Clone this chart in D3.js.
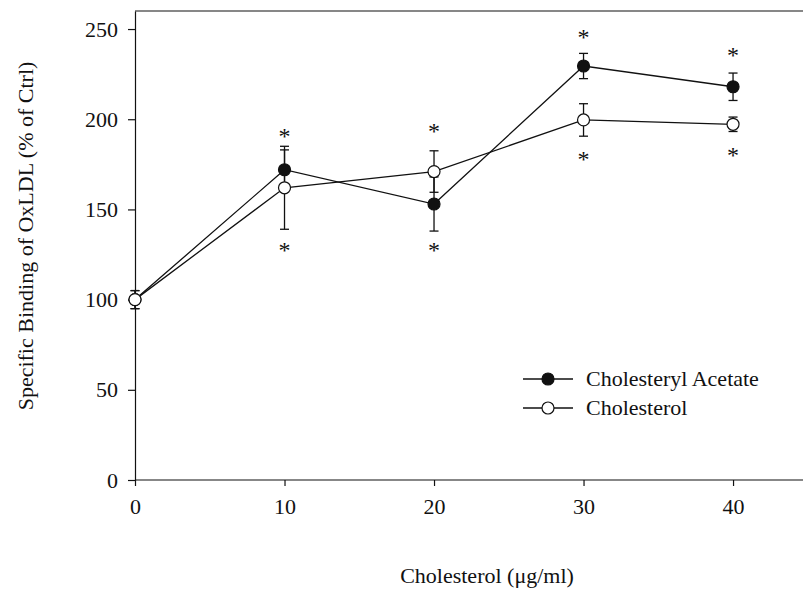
<!DOCTYPE html>
<html><head><meta charset="utf-8">
<script src="https://cdn.jsdelivr.net/npm/d3@7"></script>
<style>body{margin:0;background:#fff}svg{display:block}text{font-family:"Liberation Serif","Times New Roman",serif;fill:#111}</style>
</head><body><svg id="c" width="803" height="590"></svg>
<script>
const doses = [0, 10, 20, 30, 40];
const acetateMean = [100, 172, 153, 229.5, 218];
const acetateErr  = [5, 11, 15, 7, 7.6];
const cholMean    = [100, 162, 171, 199.6, 197.2];
const cholErr     = [5, 23, 11.5, 9, 4];
const starsAbove  = [null, 192.3, 195.3, 247.2, 237.4];
const starsBelow  = [null, 129.2, 129.3, 179.6, 181.6];
const xTicks = [0, 10, 20, 30, 40];
const yTicks = [0, 50, 100, 150, 200, 250];
const seriesNames = ["Cholesteryl Acetate", "Cholesterol"];

const svg = d3.select("#c");
const x = d3.scaleLinear().domain([0, 45]).range([135, 807.8]);
const y = d3.scaleLinear().domain([0, 260]).range([480, 11]);
const ink = "#111";

// frame top
svg.append("line").attr("x1", 135).attr("x2", 803).attr("y1", y(260)).attr("y2", y(260))
  .attr("stroke", ink).attr("stroke-width", 1.2);

const yAxis = svg.append("g").attr("transform", "translate(135,0)")
  .call(d3.axisLeft(y).tickValues(yTicks).tickSize(7).tickPadding(10).tickSizeOuter(0));
const xAxis = svg.append("g").attr("transform", "translate(0,480)")
  .call(d3.axisBottom(x).tickValues(xTicks).tickSize(6).tickPadding(12).tickSizeOuter(0));
[yAxis, xAxis].forEach(a => {
  a.select(".domain").attr("stroke", ink).attr("stroke-width", 1.2);
  a.selectAll(".tick line").attr("stroke", ink).attr("stroke-width", 1.2);
  a.selectAll("text").style("font-family", '"Liberation Serif",serif').style("font-size", "22px").attr("fill", ink);
});
xAxis.select(".domain").attr("d", `M135,0H803`);

const series = [
  {mean: acetateMean, err: acetateErr, fill: ink},
  {mean: cholMean, err: cholErr, fill: "#fff"}
];
const line = d3.line().x((d, i) => x(doses[i])).y(d => y(d));
series.forEach(s => {
  svg.append("path").attr("d", line(s.mean)).attr("fill", "none").attr("stroke", ink).attr("stroke-width", 1.3);
});
series.forEach(s => {
  const g = svg.append("g").attr("stroke", ink).attr("stroke-width", 1.3);
  s.mean.forEach((m, i) => {
    const cx = x(doses[i]);
    g.append("line").attr("x1", cx).attr("x2", cx).attr("y1", y(m - s.err[i])).attr("y2", y(m + s.err[i]));
    [m - s.err[i], m + s.err[i]].forEach(v => g.append("line").attr("x1", cx - 4.5).attr("x2", cx + 4.5).attr("y1", y(v)).attr("y2", y(v)));
  });
});
series.forEach(s => {
  svg.append("g").selectAll("circle").data(s.mean).join("circle")
    .attr("cx", (d, i) => x(doses[i])).attr("cy", d => y(d)).attr("r", 6)
    .attr("fill", s.fill).attr("stroke", ink).attr("stroke-width", 1.2);
});
// significance asterisks
[starsAbove, starsBelow].forEach(arr => {
  arr.forEach((v, i) => {
    if (v == null) return;
    svg.append("text").attr("x", x(doses[i])).attr("y", y(v) + 11).attr("text-anchor", "middle")
      .style("font-size", "24px").text("*");
  });
});

// legend
const leg = svg.append("g");
[379, 408].forEach((ly, k) => {
  leg.append("line").attr("x1", 523).attr("x2", 573).attr("y1", ly).attr("y2", ly).attr("stroke", ink).attr("stroke-width", 1.3);
  leg.append("circle").attr("cx", 548).attr("cy", ly).attr("r", 6).attr("fill", series[k].fill).attr("stroke", ink).attr("stroke-width", 1.2);
  leg.append("text").attr("x", 586).attr("y", ly + 7).style("font-size", "22px").text(seriesNames[k]);
});

svg.append("text").attr("transform", "translate(33,236) rotate(-90)").attr("text-anchor", "middle")
  .style("font-size", "22px").text("Specific Binding of OxLDL (% of Ctrl)");
svg.append("text").attr("x", 487).attr("y", 583).attr("text-anchor", "middle")
  .style("font-size", "22px").text("Cholesterol (μg/ml)");
</script></body></html>
